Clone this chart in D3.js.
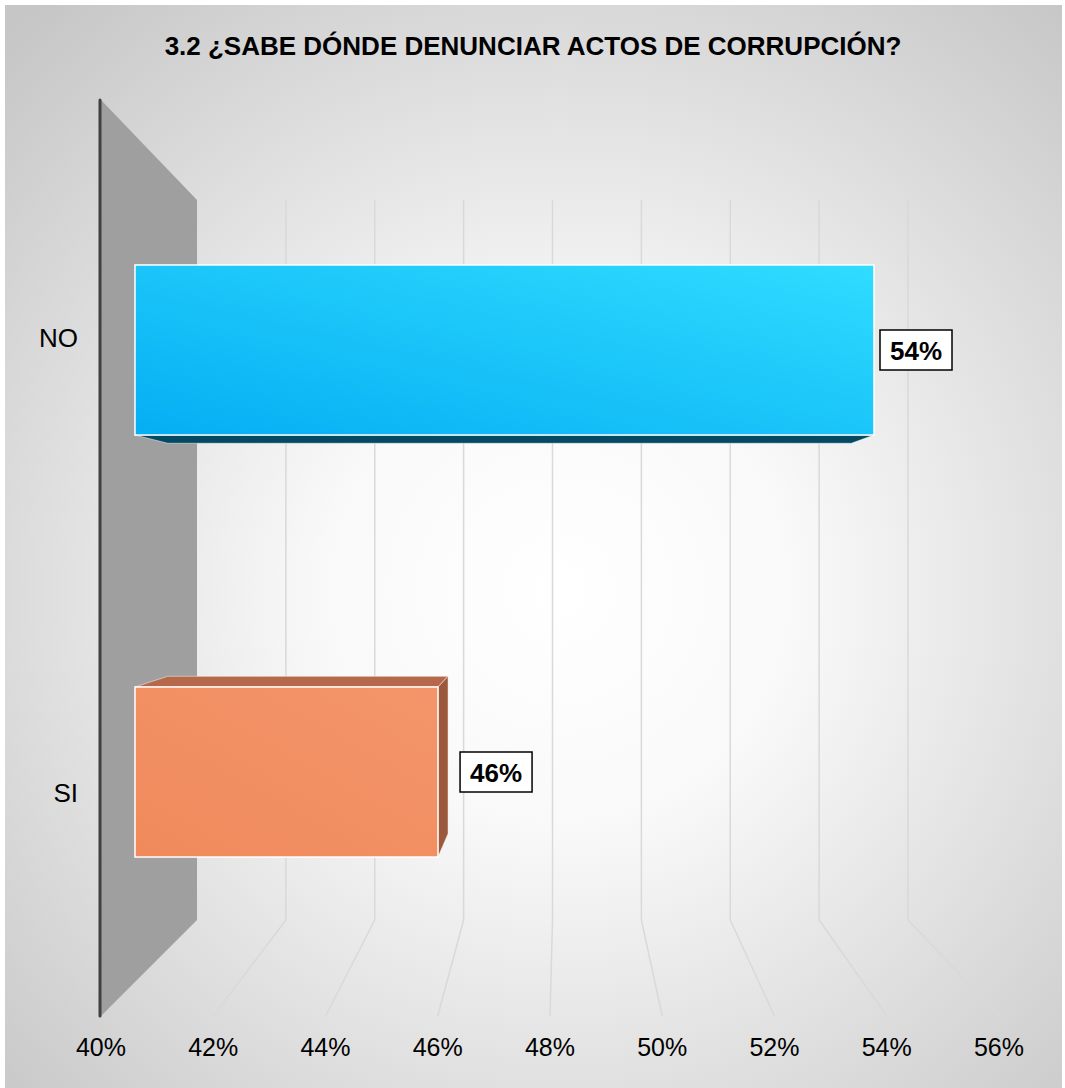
<!DOCTYPE html>
<html><head><meta charset="utf-8">
<script src="https://cdn.jsdelivr.net/npm/d3@7"></script>
<style>html,body{margin:0;padding:0;background:#fff;}svg{display:block;}</style>
</head><body>
<svg id="chart" width="1065" height="1088"></svg>
<script>
// ---- data ----
const title = "3.2 ¿SABE DÓNDE DENUNCIAR ACTOS DE CORRUPCIÓN?";
const categories = ["NO", "SI"];
const values = [0.54, 0.46];
const tickValues = [0.40, 0.42, 0.44, 0.46, 0.48, 0.50, 0.52, 0.54, 0.56];

// ---- layout ----
const W = 1065, H = 1088;
const svg = d3.select("#chart");
const defs = svg.append("defs");
const font = "'Liberation Sans', Arial, sans-serif";

// background
const bg = defs.append("radialGradient").attr("id","bg")
  .attr("gradientUnits","userSpaceOnUse").attr("cx",560).attr("cy",590).attr("r",780);
bg.append("stop").attr("offset","0").attr("stop-color","#ffffff");
bg.append("stop").attr("offset","0.3").attr("stop-color","#f9f9f9");
bg.append("stop").attr("offset","1").attr("stop-color","#c6c6c6");
svg.append("rect").attr("x",5).attr("y",5).attr("width",W-8).attr("height",H-5).attr("fill","url(#bg)");

// scales: front plane (floor front edge), back wall plane, bar front face
const xFront = d3.scaleLinear().domain([0.40,0.56]).range([101,999]);
const xBack  = d3.scaleLinear().domain([0.40,0.56]).range([197,908]);
const xBar   = d3.scaleLinear().domain([0.40,0.56]).range([111,983]);
const wallTop = 200, wallBottom = 920, frontTop = 100, frontBottom = 1016;
const y = d3.scaleBand().domain(categories).range([139,983]).paddingInner(0.597).paddingOuter(0.2985);

// perspective for bar depth
const vp = [572,545], k = 0.925;
const proj = (px,py) => [vp[0]+(px-vp[0])*k, vp[1]+(py-vp[1])*k];
// category labels sit on the front plane
const labelVp = 504, labelScale = 1.078;

// back wall gridlines
const gridTicks = tickValues.slice(1);
svg.append("g").selectAll("line").data(gridTicks).join("line")
  .attr("x1",d=>xBack(d)).attr("x2",d=>xBack(d))
  .attr("y1",wallTop).attr("y2",wallBottom)
  .attr("stroke","#d9d9d9").attr("stroke-width",1.5);
// floor gridlines
svg.append("g").selectAll("line").data(gridTicks).join("line")
  .attr("x1",d=>xBack(d)).attr("y1",wallBottom)
  .attr("x2",d=>xFront(d)).attr("y2",frontBottom)
  .attr("stroke","#d9d9d9").attr("stroke-width",1.5);

// side wall
svg.append("path")
  .attr("d", d3.line()([[xFront(0.40),frontTop],[xBack(0.40),wallTop],[xBack(0.40),wallBottom],[xFront(0.40),frontBottom]]) + "Z")
  .attr("fill","#9f9f9f");
svg.append("line").attr("x1",xFront(0.40)-1).attr("x2",xFront(0.40)-1)
  .attr("y1",frontTop).attr("y2",frontBottom)
  .attr("stroke","#404040").attr("stroke-width",3).attr("stroke-linecap","round");

// bar start = wall position at bar front depth
const barDepth = 0.354;
const barStart = xFront(0.40) + barDepth*(xBack(0.40)-xFront(0.40));

const gNO = defs.append("linearGradient").attr("id","gNO").attr("x1",0).attr("y1",1).attr("x2",1).attr("y2",0);
gNO.append("stop").attr("offset","0").attr("stop-color","#05aef3");
gNO.append("stop").attr("offset","1").attr("stop-color","#30dcff");
const gSI = defs.append("linearGradient").attr("id","gSI").attr("x1",0).attr("y1",1).attr("x2",1).attr("y2",0);
gSI.append("stop").attr("offset","0").attr("stop-color","#f08a5c");
gSI.append("stop").attr("offset","1").attr("stop-color","#f3956a");
const styles = {
  NO: {front:"url(#gNO)", side:"#034a62", top:"#034a62"},
  SI: {front:"url(#gSI)", side:"#9c583a", top:"#b5694a"}
};

const bars = svg.append("g");
categories.forEach((c,i) => {
  const v = values[i];
  const x0 = barStart, x1 = xBar(v), y0 = y(c), y1 = y(c)+y.bandwidth();
  const st = styles[c];
  const faces = [];
  if (y1 < vp[1]) {
    faces.push({pts:[[x0,y1],[x1,y1],proj(x1,y1),proj(x0,y1)], fill:st.top});
  } else {
    faces.push({pts:[[x0,y0],[x1,y0],proj(x1,y0),proj(x0,y0)], fill:st.top});
  }
  if (x1 < vp[0]) {
    faces.push({pts:[[x1,y0],proj(x1,y0),proj(x1,y1),[x1,y1]], fill:st.side});
  }
  faces.forEach(f => bars.append("path").attr("d", d3.line()(f.pts)+"Z")
    .attr("fill",f.fill).attr("stroke","#ffffff").attr("stroke-width",0.8).attr("stroke-opacity",0.6));
  bars.append("rect").attr("x",x0).attr("y",y0).attr("width",x1-x0).attr("height",y1-y0)
    .attr("fill",st.front).attr("stroke","#ffffff").attr("stroke-width",1.5);

  // data label
  const right = x1 < vp[0] ? proj(x1,y0)[0] : x1;
  const lx = right + (x1 < vp[0] ? 12 : 6);
  const cy = y0 + y.bandwidth()/2;
  bars.append("rect").attr("x",lx).attr("y",cy-20).attr("width",72).attr("height",40)
    .attr("fill","#fff").attr("stroke","#000").attr("stroke-width",1.5);
  bars.append("text").attr("x",lx+36).attr("y",cy+1).attr("text-anchor","middle")
    .attr("dominant-baseline","central").attr("font-family",font).attr("font-weight","bold")
    .attr("font-size",26).attr("fill","#000").text(d3.format(".0%")(v));

  // category label
  svg.append("text").attr("x",78).attr("y",labelVp + (cy-labelVp)*labelScale).attr("text-anchor","end")
    .attr("dominant-baseline","central").attr("font-family",font).attr("font-size",26)
    .attr("fill","#000").text(c);
});

// tick labels
svg.append("g").selectAll("text").data(tickValues).join("text")
  .attr("x",d=>xFront(d)).attr("y",1047).attr("text-anchor","middle")
  .attr("dominant-baseline","central").attr("font-family",font).attr("font-size",25)
  .attr("fill","#000").text(d=>d3.format(".0%")(d));

// title
svg.append("text").attr("x",533).attr("y",46).attr("text-anchor","middle")
  .attr("dominant-baseline","central").attr("font-family",font).attr("font-weight","bold")
  .attr("font-size",26).attr("fill","#000").text(title);
</script>
</body></html>
